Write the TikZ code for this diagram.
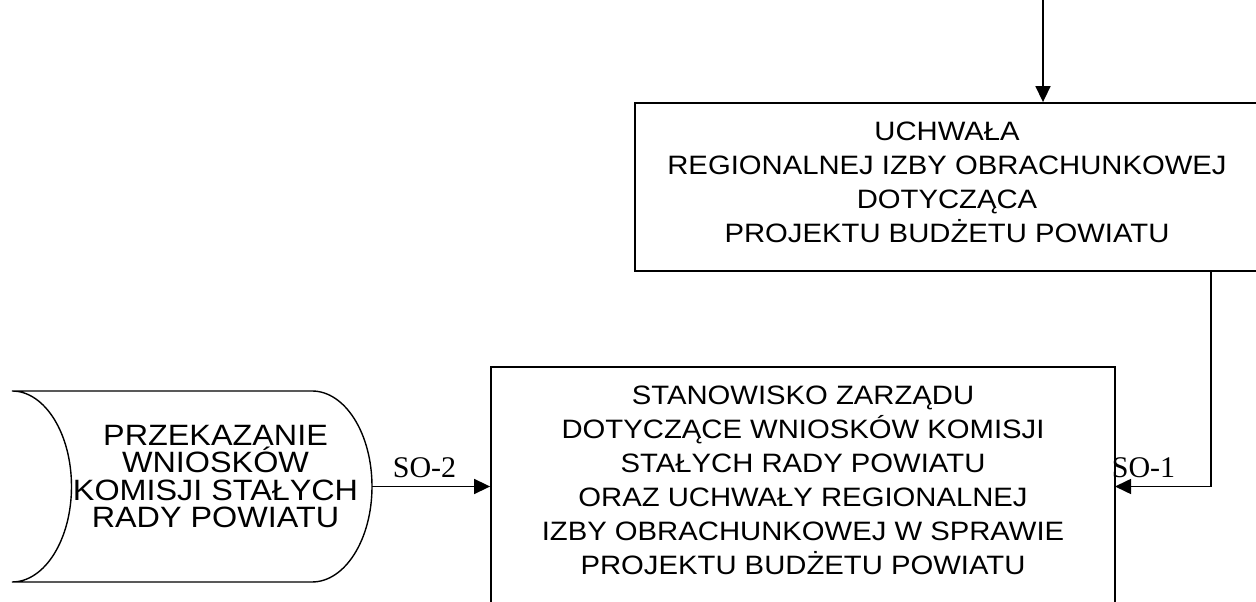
\documentclass[tikz,border=0pt]{standalone}
\usepackage{fontspec}
\usetikzlibrary{arrows.meta}
\newfontfamily\boxfont[FakeStretch=1.1]{Liberation Sans}
\newfontfamily\labfont{Liberation Serif}
\begin{document}
\begin{tikzpicture}[x=1pt,y=1pt,
  boxshape/.style={draw=black,line width=1.8pt,rectangle,inner sep=0pt},
  boxtext/.style={align=center,inner sep=0pt,font=\boxfont\fontsize{26.6}{34}\selectfont},
  shapetext/.style={align=center,inner sep=0pt,font=\boxfont\fontsize{29.4}{27.5}\selectfont},
  solabel/.style={inner sep=0pt,font=\labfont\fontsize{30}{32}\selectfont},
  conn/.style={line width=1.6pt,-{Triangle[length=16pt,width=15pt]}},
  datashape/.style={line width=1.4pt}]
\useasboundingbox (0,0) rectangle (1256,602);
% top box
\node[boxshape,minimum width=624pt,minimum height=168pt] (box1) at (947,415) {};
\node[boxtext] (box1text) at (947,419.5) {UCHWAŁA\\REGIONALNEJ IZBY OBRACHUNKOWEJ\\DOTYCZĄCA\\PROJEKTU BUDŻETU POWIATU};
% lower box
\node[boxshape,minimum width=624pt,minimum height=253pt] (box2) at (803,108.5) {};
\node[boxtext] (box2text) at (803,122) {STANOWISKO ZARZĄDU\\DOTYCZĄCE WNIOSKÓW KOMISJI\\STAŁYCH RADY POWIATU\\ORAZ UCHWAŁY REGIONALNEJ\\IZBY OBRACHUNKOWEJ W SPRAWIE\\PROJEKTU BUDŻETU POWIATU};
% stored data shape
\coordinate (dtl) at (12,211);
\coordinate (dtr) at (312,211);
\coordinate (dbl) at (12,20);
\draw[datashape] (dtl) -- (dtr) arc[start angle=90,end angle=-90,x radius=60,y radius=95.5] -- (dbl) arc[start angle=-90,end angle=90,x radius=59.5,y radius=95.5] -- cycle;
\coordinate (dsrc) at (372,115.5);
\node[shapetext] (datatext) at (215.5,125.5) {PRZEKAZANIE\\WNIOSKÓW\\KOMISJI STAŁYCH\\RADY POWIATU};
% connectors
\coordinate (topin) at (1043,602);
\draw[conn] (topin) -- (topin |- box1.north);
\draw[conn] (dsrc) -- (dsrc -| box2.west);
\coordinate (b1out) at (1211,331);
\coordinate (b2in) at (1115,115.5);
\draw[conn] (b1out) |- (b2in);
% labels
\node[solabel] (so2) at (424.5,134) {SO-2};
\node[solabel] (so1) at (1143.5,134) {SO-1};
\end{tikzpicture}
\end{document}
